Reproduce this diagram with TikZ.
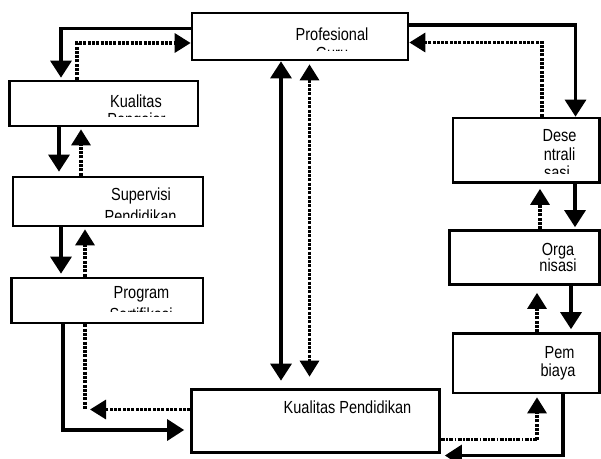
\documentclass[tikz,border=0pt]{standalone}
\usepackage{fontspec}
\setmainfont[FakeStretch=0.83]{Liberation Sans}
\usetikzlibrary{arrows.meta}

\tikzset{
  box/.style={draw, line width=2.7pt, inner sep=0pt},
  txt/.style={inner sep=0pt, anchor=base, font=\fontsize{17.5}{20}\selectfont},
  solidline/.style={line width=3.3pt},
  solidarrow/.style={solidline, -{Triangle[width=21pt,length=17pt]}},
  dotline/.style={line width=3.2pt, dash pattern=on 3pt off 1.3pt},
  dotarrow/.style={dotline, -{Triangle[width=19pt,length=16pt]}},
  dashdotline/.style={line width=2.6pt, dash pattern=on 4pt off 1.4pt on 1.6pt off 1.4pt},
}

\begin{document}
\begin{tikzpicture}[x=1pt,y=-1pt]
\useasboundingbox (0,0) rectangle (601,458);

% boxes
\node[box, minimum width=216pt,   minimum height=47pt]   (PG)  at (300,36.5)     {};
\node[box, minimum width=188.5pt, minimum height=45pt]   (KPg) at (103.75,103.5) {};
\node[box, minimum width=190pt,   minimum height=49pt]   (SP)  at (108,201.5)    {};
\node[box, minimum width=191.5pt, minimum height=45pt]   (PS)  at (107.25,300.5) {};
\node[box, minimum width=248pt,   minimum height=63pt]   (KP)  at (315.5,421)    {};
\node[box, minimum width=146.5pt, minimum height=64.5pt] (DS)  at (526.25,150.25){};
\node[box, minimum width=150pt,   minimum height=54pt]   (OR)  at (524.5,257.5)  {};
\node[box, minimum width=146.5pt, minimum height=59.5pt] (PB)  at (526.25,363.25){};

% labels
\node[txt] (tPG)  at (332,40)    {Profesional};
\node[txt] (tKPg) at (136,107)   {Kualitas};
\node[txt] (tSP)  at (141,200.7) {Supervisi};
\node[txt] (tPS)  at (141.5,298.5) {Program};
\node[txt] (tKP)  at (347.5,413.3) {Kualitas Pendidikan};
\node[txt] (tDS1) at (559.5,141.7) {Dese};
\node[txt] (tDS2) at (559.5,160)   {ntrali};
\node[txt] (tOR1) at (558,255)     {Orga};
\node[txt] (tOR2) at (558,271.7)   {nisasi};
\node[txt] (tPB1) at (559.5,358.3) {Pem};
\node[txt] (tPB2) at (558,376.7)   {biaya};

% second lines cut off by their text frames
\begin{scope}
  \clip (PG.north west) rectangle (PG.east |- 0,50);
  \node[txt] (tPGb) at (332,59) {Guru};
\end{scope}
\begin{scope}
  \clip (KPg.north west) rectangle (KPg.east |- 0,116.7);
  \node[txt] (tKPgb) at (136.5,125) {Pengajar};
\end{scope}
\begin{scope}
  \clip (SP.north west) rectangle (SP.east |- 0,217.5);
  \node[txt] (tSPb) at (140.5,222) {Pendidikan};
\end{scope}
\begin{scope}
  \clip (PS.north west) rectangle (PS.east |- 0,311.7);
  \node[txt] (tPSb) at (141,320) {Sertifikasi};
\end{scope}
\begin{scope}
  \clip (DS.north west) rectangle (DS.east |- 0,173.3);
  \node[txt] (tDS3) at (557,178.5) {sasi};
\end{scope}

% left column
\draw[solidarrow] (PG.west |- 0,28.5) -| ([yshift=2pt]61,0 |- KPg.north);
\draw[dotarrow]   (77,0 |- KPg.north) |- (PG.west |- 0,43);
\draw[solidarrow] (59,0 |- KPg.south) -- ([yshift=4pt]59,0 |- SP.north);
\draw[dotarrow]   (81,0 |- SP.north) -- ([yshift=-2pt]81,0 |- KPg.south);
\draw[solidarrow] (61,0 |- SP.south) -- ([yshift=3pt]61,0 |- PS.north);
\draw[dotarrow]   (85,0 |- PS.north) -- ([yshift=-2pt]85,0 |- SP.south);
\draw[solidarrow] (63,0 |- PS.south) |- ([xshift=-6pt]KP.west |- 0,430);
\coordinate (pscorner) at (85,409.5);
\draw[dotline]    (85,0 |- PS.south) -- (pscorner);
\draw[dotarrow]   (KP.west |- 0,409.5) -- ([xshift=5pt]pscorner);

% centre column
\draw[solidline, {Triangle[width=21pt,length=17pt]}-{Triangle[width=21pt,length=17pt]}]
  (281,0 |- PG.south) -- ([yshift=7.5pt]281,0 |- KP.north);
\draw[dotline, {Triangle[width=19pt,length=16pt]}-{Triangle[width=19pt,length=16pt]}]
  ([yshift=-3pt]309.5,0 |- PG.south) -- ([yshift=11.5pt]309.5,0 |- KP.north);

% right column
\draw[solidarrow] (PG.east |- 0,25) -| (575.5,0 |- DS.north);
\draw[dotarrow]   (542,0 |- DS.north) |- (PG.east |- 0,42.5);
\draw[solidarrow] (575,0 |- DS.south) -- ([yshift=2pt]575,0 |- OR.north);
\draw[dotarrow]   (540,0 |- OR.north) -- ([yshift=-5pt]540,0 |- DS.south);
\draw[solidarrow] (571,0 |- OR.south) -- ([yshift=3pt]571,0 |- PB.north);
\draw[dotarrow]   (537,0 |- PB.north) -- ([yshift=-7pt]537,0 |- OR.south);
\draw[solidarrow] (563,0 |- PB.south) |- ([xshift=4pt]KP.east |- 0,455.5);
\coordinate (pbcorner) at (537,439.5);
\draw[dashdotline] (KP.east |- 0,439.5) -- (pbcorner);
\draw[dotarrow]   (pbcorner) -- ([yshift=-3pt]537,0 |- PB.south);
\end{tikzpicture}
\end{document}
